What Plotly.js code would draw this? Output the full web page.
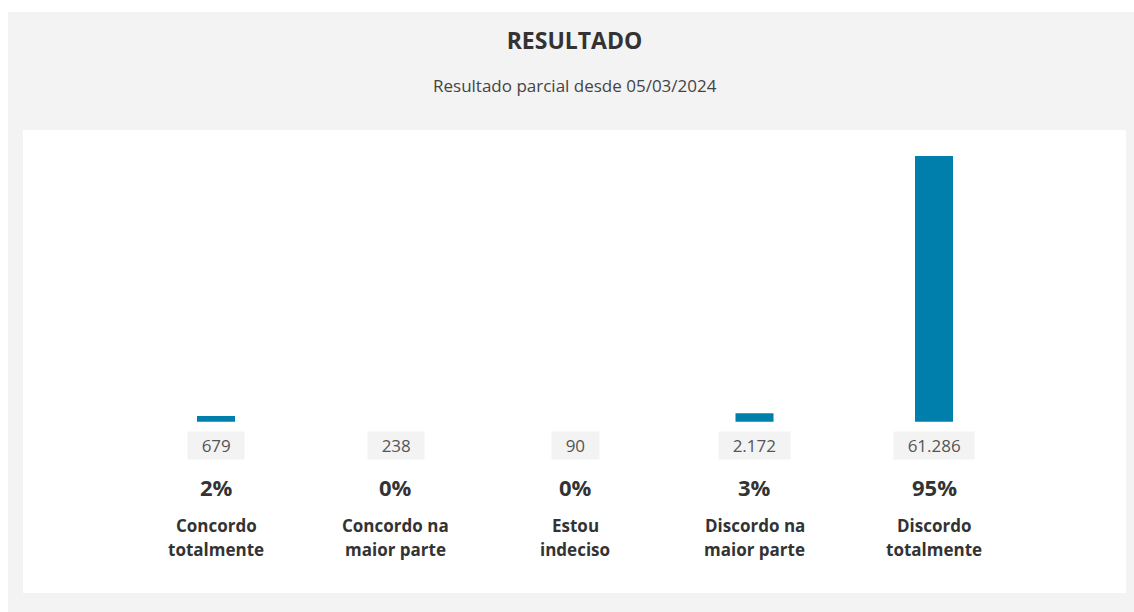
<!DOCTYPE html>
<html>
<head>
<meta charset="utf-8">
<script src="https://cdn.plot.ly/plotly-3.0.1.min.js"></script>
<style>
  html, body { margin: 0; padding: 0; background: #ffffff; }
  #chart { position: absolute; left: 8px; top: 12px; width: 1126px; height: 600px; }
</style>
</head>
<body>
<div id="chart"></div>
<script>
// ---- data ----
const categories = ["Concordo totalmente", "Concordo na maior parte", "Estou indeciso", "Discordo na maior parte", "Discordo totalmente"];
const labelLines = [["Concordo", "totalmente"], ["Concordo na", "maior parte"], ["Estou", "indeciso"], ["Discordo na", "maior parte"], ["Discordo", "totalmente"]];
const votes = [679, 238, 90, 2172, 61286];
const voteLabels = ["679", "238", "90", "2.172", "61.286"];
const percents = [2, 0, 0, 3, 95];
const titleText = "RESULTADO";
const subtitleText = "Resultado parcial desde 05/03/2024";

// ---- chart ----
const xs = categories.map((c, i) => i);
const NB = "\u00a0\u00a0\u2009";

const annotations = [];
xs.forEach((x, i) => {
  annotations.push({
    x: x, y: 0, xref: "x", yref: "y", yshift: -23.8,
    text: NB + voteLabels[i] + NB, showarrow: false,
    bgcolor: "#f3f3f3", borderpad: 2,
    font: { family: "Open Sans", size: 17, color: "#555555" },
    xanchor: "center", yanchor: "middle"
  });
  annotations.push({
    x: x, y: 0, xref: "x", yref: "y", yshift: -65.8,
    text: "<b>" + percents[i] + "%</b>", showarrow: false,
    font: { family: "Open Sans", size: 22, color: "#333333" },
    xanchor: "center", yanchor: "middle"
  });
  annotations.push({
    x: x, y: 0, xref: "x", yref: "y", yshift: -103.8,
    text: "<b>" + labelLines[i][0] + "</b>", showarrow: false,
    font: { family: "Open Sans", size: 17, color: "#333333" },
    xanchor: "center", yanchor: "middle"
  });
  annotations.push({
    x: x, y: 0, xref: "x", yref: "y", yshift: -127.8,
    text: "<b>" + labelLines[i][1] + "</b>", showarrow: false,
    font: { family: "Open Sans", size: 17, color: "#333333" },
    xanchor: "center", yanchor: "middle"
  });
});
annotations.push({
  x: 0.5, y: 1, xref: "paper", yref: "paper", yshift: 45,
  text: subtitleText, showarrow: false,
  font: { family: "Open Sans", size: 17, color: "#444444" },
  xanchor: "center", yanchor: "middle"
});

const trace = {
  type: "bar",
  x: xs,
  y: percents,
  customdata: votes,
  width: 0.2117,
  marker: { color: "#007fac", line: { width: 0 } },
  hoverinfo: "skip"
};

const layout = {
  width: 1126, height: 600,
  margin: { l: 15, r: 8, t: 118, b: 19, pad: 0 },
  paper_bgcolor: "#f3f3f3",
  plot_bgcolor: "#ffffff",
  showlegend: false,
  title: {
    text: "<b>" + titleText + "</b>",
    x: 0.5, xref: "paper",
    y: 1 - 28.5 / 600, yref: "container", yanchor: "middle",
    font: { family: "Open Sans", size: 23, color: "#333333" }
  },
  xaxis: { range: [-1.0752, 5.0696], visible: false, fixedrange: true },
  yaxis: { range: [-61.25, 104.29], visible: false, fixedrange: true },
  annotations: annotations
};

Plotly.newPlot("chart", [trace], layout, { displayModeBar: false, staticPlot: true });
</script>
</body>
</html>
